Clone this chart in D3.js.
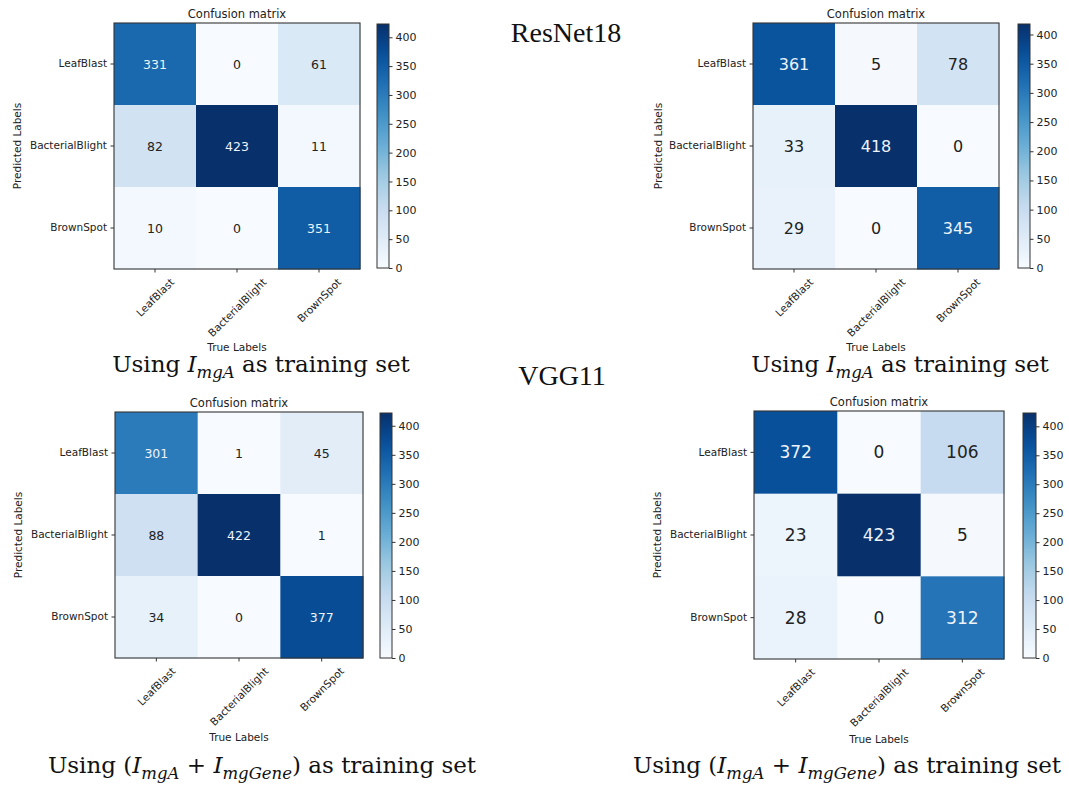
<!DOCTYPE html>
<html>
<head>
<meta charset="utf-8">
<script src="https://cdn.jsdelivr.net/npm/d3@7"></script>
<style>
  html, body { margin: 0; padding: 0; background: #ffffff; }
  svg { display: block; }
</style>
</head>
<body>
<svg id="chart" width="1069" height="785"></svg>
<script>
// ---------------- data ----------------
const classes = ["LeafBlast", "BacterialBlight", "BrownSpot"];
const chartTitle = "Confusion matrix";
const xAxisLabel = "True Labels";
const yAxisLabel = "Predicted Labels";
const colorbarTicks = [0, 50, 100, 150, 200, 250, 300, 350, 400];

// rows = predicted label, columns = true label
const matrixTopLeft = [
  [331, 0, 61],
  [82, 423, 11],
  [10, 0, 351]
];
const matrixTopRight = [
  [361, 5, 78],
  [33, 418, 0],
  [29, 0, 345]
];
const matrixBottomLeft = [
  [301, 1, 45],
  [88, 422, 1],
  [34, 0, 377]
];
const matrixBottomRight = [
  [372, 0, 106],
  [23, 423, 5],
  [28, 0, 312]
];
const modelLabels = ["ResNet18", "VGG11"];
// ---------------- end data ----------------

const svg = d3.select("#chart");

// matplotlib "Blues" colormap anchors (linear segmented)
const bluesAnchors = ["#f7fbff", "#deebf7", "#c6dbef", "#9ecae1", "#6baed6",
                      "#4292c6", "#2171b5", "#08519c", "#08306b"];

const panels = [
  { data: matrixTopLeft, box: [114, 23, 246, 246], cb: [377, 24, 12, 244],
    titleY: 14, predX: 17, trueY: 347, numSize: 12.5, caption: "single",
    capX: 261, capY: 372 },
  { data: matrixTopRight, box: [753, 23, 246, 246], cb: [1018, 24, 12, 244],
    titleY: 14, predX: 658, trueY: 347, numSize: 16, caption: "single",
    capX: 900, capY: 372 },
  { data: matrixBottomLeft, box: [115, 412, 248, 246], cb: [380, 413, 12, 245],
    titleY: 403, predX: 18, trueY: 737, numSize: 12.5, caption: "double",
    capX: 262, capY: 773 },
  { data: matrixBottomRight, box: [754, 411, 250, 248], cb: [1023, 413, 13, 245],
    titleY: 402, predX: 657, trueY: 739, numSize: 17, caption: "double",
    capX: 847, capY: 773 }
];

const sansFont = "'DejaVu Sans', sans-serif";
const serifFont = "'DejaVu Serif', serif";
const capSize = 23;
const subSize = 16.5;
const subShift = 5.5;

panels.forEach((p, pi) => {
  const [bx, by, bw, bh] = p.box;
  const vmax = d3.max(p.data.flat());
  const color = d3.scaleLinear()
    .domain(bluesAnchors.map((_, i) => i / (bluesAnchors.length - 1) * vmax))
    .range(bluesAnchors)
    .interpolate(d3.interpolateRgb)
    .clamp(true);

  const x = d3.scaleBand().domain(classes).range([bx, bx + bw]);
  const y = d3.scaleBand().domain(classes).range([by, by + bh]);

  const g = svg.append("g").attr("class", "panel-" + pi);

  // cells
  const cells = [];
  p.data.forEach((row, ri) => row.forEach((v, ci) => cells.push({ r: classes[ri], c: classes[ci], v })));

  g.selectAll("rect.cell").data(cells).join("rect")
    .attr("class", "cell")
    .attr("x", d => x(d.c)).attr("y", d => y(d.r))
    .attr("width", x.bandwidth() + 0.5).attr("height", y.bandwidth() + 0.5)
    .attr("fill", d => color(d.v));

  g.selectAll("text.val").data(cells).join("text")
    .attr("class", "val")
    .attr("x", d => x(d.c) + x.bandwidth() / 2)
    .attr("y", d => y(d.r) + y.bandwidth() / 2)
    .attr("text-anchor", "middle")
    .attr("dominant-baseline", "central")
    .attr("font-family", sansFont)
    .attr("font-size", p.numSize)
    .attr("fill", d => d.v > vmax / 2 ? "#eef3fa" : "#222222")
    .text(d => d.v);

  // frame
  g.append("rect")
    .attr("x", bx).attr("y", by).attr("width", bw).attr("height", bh)
    .attr("fill", "none").attr("stroke", "#333").attr("stroke-width", 1.1);

  // y axis (predicted)
  const yAxis = d3.axisLeft(y).tickSize(3.5).tickPadding(3.5);
  const yg = g.append("g").attr("transform", `translate(${bx},0)`).call(yAxis);
  yg.select(".domain").remove();
  yg.selectAll("line").attr("stroke", "#333");
  yg.selectAll("text").attr("font-family", sansFont).attr("font-size", 10.5).attr("fill", "#222");

  // x axis (true) with 45° labels
  const xAxis = d3.axisBottom(x).tickSize(3.5).tickFormat(() => "");
  const xg = g.append("g").attr("transform", `translate(0,${by + bh})`).call(xAxis);
  xg.select(".domain").remove();
  xg.selectAll("line").attr("stroke", "#333");
  classes.forEach(c => {
    const t = g.append("text")
      .attr("font-family", sansFont).attr("font-size", 10.5).attr("fill", "#222")
      .attr("text-anchor", "middle").attr("dominant-baseline", "central")
      .text(c);
    const L = t.node().getComputedTextLength();
    const hgt = 10.5 * 1.1;
    const bbox = (L + hgt) * Math.SQRT1_2;
    t.attr("transform", `translate(${x(c) + x.bandwidth() / 2},${by + bh + 7 + bbox / 2}) rotate(-45)`);
  });

  // title & axis labels
  g.append("text").attr("x", bx + bw / 2).attr("y", p.titleY)
    .attr("text-anchor", "middle").attr("dominant-baseline", "central")
    .attr("font-family", sansFont).attr("font-size", 11.5).attr("fill", "#222")
    .text(chartTitle);
  g.append("text").attr("x", bx + bw / 2).attr("y", p.trueY)
    .attr("text-anchor", "middle").attr("dominant-baseline", "central")
    .attr("font-family", sansFont).attr("font-size", 10.5).attr("fill", "#222")
    .text(xAxisLabel);
  g.append("text")
    .attr("transform", `translate(${p.predX},${by + bh / 2}) rotate(-90)`)
    .attr("text-anchor", "middle").attr("dominant-baseline", "central")
    .attr("font-family", sansFont).attr("font-size", 10.5).attr("fill", "#222")
    .text(yAxisLabel);

  // colorbar
  const [cx, cy, cw, ch] = p.cb;
  const cbScale = d3.scaleLinear().domain([0, vmax]).range([cy + ch, cy]);
  const gradId = "grad" + pi;
  const grad = svg.append("defs").append("linearGradient")
    .attr("id", gradId).attr("x1", 0).attr("y1", 1).attr("x2", 0).attr("y2", 0);
  d3.range(0, 1.0001, 0.05).forEach(t => {
    grad.append("stop").attr("offset", t).attr("stop-color", color(t * vmax));
  });
  g.append("rect").attr("x", cx).attr("y", cy).attr("width", cw).attr("height", ch)
    .attr("fill", `url(#${gradId})`).attr("stroke", "#333").attr("stroke-width", 1);
  const cbAxis = d3.axisRight(cbScale).tickValues(colorbarTicks).tickSize(3.5).tickPadding(3);
  const cg = g.append("g").attr("transform", `translate(${cx + cw},0)`).call(cbAxis);
  cg.select(".domain").remove();
  cg.selectAll("line").attr("stroke", "#333");
  cg.selectAll("text").attr("font-family", sansFont).attr("font-size", 11).attr("fill", "#222");

  // caption
  const cap = svg.append("text")
    .attr("x", p.capX).attr("y", p.capY)
    .attr("text-anchor", "middle")
    .attr("font-family", serifFont).attr("font-size", capSize).attr("fill", "#111");
  if (p.caption === "single") {
    cap.append("tspan").text("Using ");
    cap.append("tspan").attr("font-style", "italic").text("I");
    cap.append("tspan").attr("font-style", "italic").attr("font-size", subSize).attr("dy", subShift).text("mgA");
    cap.append("tspan").attr("dy", -subShift).text(" as training set");
  } else {
    cap.append("tspan").text("Using (");
    cap.append("tspan").attr("font-style", "italic").text("I");
    cap.append("tspan").attr("font-style", "italic").attr("font-size", subSize).attr("dy", subShift).text("mgA");
    cap.append("tspan").attr("dy", -subShift).text(" + ");
    cap.append("tspan").attr("font-style", "italic").text("I");
    cap.append("tspan").attr("font-style", "italic").attr("font-size", subSize).attr("dy", subShift).text("mgGene");
    cap.append("tspan").attr("dy", -subShift).text(") as training set");
  }
});

// model labels
svg.append("text").attr("x", 566).attr("y", 42).attr("text-anchor", "middle")
  .attr("font-family", "'Liberation Serif', serif").attr("font-size", 28).attr("fill", "#111")
  .text(modelLabels[0]);
svg.append("text").attr("x", 562).attr("y", 385).attr("text-anchor", "middle")
  .attr("font-family", "'Liberation Serif', serif").attr("font-size", 28).attr("fill", "#111")
  .text(modelLabels[1]);
</script>
</body>
</html>
